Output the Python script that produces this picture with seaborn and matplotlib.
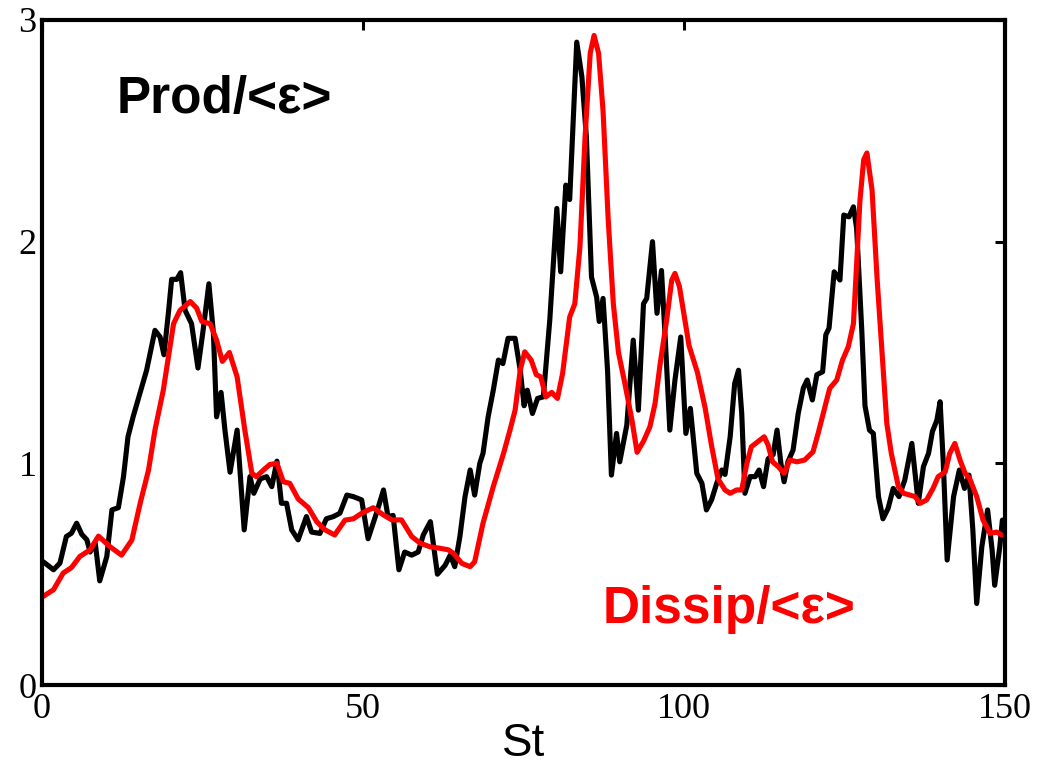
import matplotlib
matplotlib.use('Agg')
import matplotlib.pyplot as plt
import seaborn as sns
import pandas as pd

# Production (black)
prod_st = [0.2, 1.8, 2.8, 3.8, 4.6, 5.4, 6.2, 7.0, 7.5, 8.3, 9.0, 10.1, 10.9, 11.9, 12.7, 13.4, 14.2,
           15.3, 16.3, 17.1, 17.6, 18.4, 19.0, 19.7, 20.2, 21.0, 21.6, 22.3, 23.3, 24.3, 25.1, 26.0,
           26.7, 27.2, 27.9, 28.5, 29.3, 30.4, 31.5, 32.4, 33.0, 34.0, 35.0, 35.8, 36.6, 37.3, 38.1,
           38.9, 39.9, 41.2, 42.0, 43.3, 44.3, 45.4, 46.4, 47.5, 48.5, 49.8, 50.8, 52.1, 53.2, 53.9,
           54.7, 55.6, 56.5, 57.6, 58.6, 59.4, 60.5, 61.6, 62.8, 63.6, 64.3, 65.1, 65.9, 66.7, 67.4,
           68.2, 68.7, 69.5, 70.3, 71.1, 71.8, 72.6, 73.7, 74.5, 75.1, 75.6, 76.4, 77.2, 78.1, 79.1,
           80.2, 80.8, 81.6, 82.2, 83.3, 84.1, 84.8, 85.6, 86.4, 86.8, 87.4, 88.1, 88.7, 89.5, 90.0,
           91.1, 92.1, 92.9, 93.7, 94.2, 95.1, 95.8, 96.5, 97.1, 97.8, 98.6, 99.5, 100.3, 101.0,
           102.0, 102.8, 103.5, 104.3, 105.1, 105.9, 106.4, 107.2, 107.9, 108.5, 109.0, 109.5,
           110.3, 111.1, 111.7, 112.4, 113.1, 113.9, 114.5, 115.1, 115.6, 116.2, 117.0, 117.8,
           118.6, 119.2, 120.0, 120.7, 121.6, 122.1, 122.6, 123.4, 124.3, 124.9, 125.7, 126.4,
           126.9, 127.7, 128.2, 128.9, 129.5, 130.3, 131.0, 131.8, 132.6, 133.5, 134.4, 135.5,
           136.5, 137.3, 138.1, 138.7, 139.4, 139.9, 140.4, 141.0, 142.0, 142.9, 143.7, 144.4,
           145.0, 145.6, 146.4, 147.3, 148.0, 148.4, 149.2, 149.6]
prod_val = [0.556, 0.52, 0.55, 0.67, 0.685, 0.73, 0.68, 0.655, 0.60, 0.64, 0.47, 0.58, 0.79, 0.80,
            0.94, 1.12, 1.21, 1.32, 1.42, 1.53, 1.60, 1.57, 1.49, 1.68, 1.83, 1.83, 1.86, 1.69,
            1.63, 1.43, 1.60, 1.81, 1.59, 1.21, 1.32, 1.15, 0.96, 1.15, 0.70, 0.94, 0.865, 0.93,
            0.94, 0.895, 1.01, 0.82, 0.82, 0.70, 0.655, 0.76, 0.69, 0.684, 0.75, 0.76, 0.775,
            0.857, 0.85, 0.835, 0.66, 0.775, 0.88, 0.76, 0.765, 0.52, 0.60, 0.586, 0.60, 0.677,
            0.737, 0.50, 0.54, 0.586, 0.534, 0.67, 0.85, 0.97, 0.857, 1.00, 1.045, 1.21, 1.33,
            1.466, 1.45, 1.564, 1.564, 1.42, 1.26, 1.33, 1.225, 1.293, 1.30, 1.646, 2.15, 1.864,
            2.255, 2.19, 2.90, 2.744, 2.473, 1.84, 1.75, 1.64, 1.744, 1.42, 0.947, 1.135, 1.007,
            1.173, 1.556, 1.24, 1.72, 1.744, 2.00, 1.677, 1.87, 1.556, 1.15, 1.376, 1.57, 1.135,
            1.248, 0.955, 0.91, 0.79, 0.835, 0.91, 0.97, 0.95, 1.12, 1.36, 1.42, 1.225, 0.865,
            0.94, 0.94, 0.97, 0.895, 1.02, 1.04, 1.15, 1.00, 0.917, 1.007, 1.06, 1.225, 1.34,
            1.376, 1.286, 1.40, 1.413, 1.58, 1.61, 1.864, 1.827, 2.12, 2.112, 2.157, 2.06, 1.60,
            1.26, 1.15, 1.135, 0.85, 0.75, 0.797, 0.887, 0.85, 0.925, 1.09, 0.82, 0.985, 1.045,
            1.143, 1.195, 1.278, 1.00, 0.564, 0.85, 0.97, 0.887, 0.947, 0.70, 0.368, 0.624, 0.79,
            0.61, 0.45, 0.624, 0.744]

# Dissipation (red)
dis_st = [0.2, 1.8, 3.3, 4.6, 5.9, 7.5, 8.8, 10.6, 12.4, 14.0, 15.3, 16.6, 17.6, 18.9, 19.7, 20.5,
          21.5, 23.1, 24.1, 24.9, 26.2, 27.2, 28.1, 29.2, 30.4, 31.6, 32.7, 33.4, 34.5, 35.5, 36.6,
          37.6, 38.6, 39.9, 41.5, 42.8, 44.1, 45.6, 47.2, 48.5, 49.8, 51.6, 53.2, 54.5, 56.0, 57.6,
          58.9, 60.4, 62.0, 63.3, 64.1, 65.4, 66.7, 67.4, 68.7, 70.3, 71.9, 72.9, 73.7, 74.5, 75.2,
          76.2, 77.0, 77.7, 78.5, 79.4, 80.3, 81.1, 82.2, 83.0, 83.8, 84.6, 85.4, 86.0, 86.7, 87.4,
          88.2, 89.0, 89.8, 90.8, 91.9, 92.7, 93.7, 94.7, 95.5, 96.3, 97.3, 98.1, 98.6, 99.3,
          100.8, 102.1, 103.3, 104.3, 105.3, 106.4, 107.2, 108.2, 109.0, 109.8, 110.5, 111.6,
          112.5, 113.1, 113.8, 114.7, 115.6, 116.5, 117.6, 118.8, 120.1, 120.9, 121.7, 122.7,
          123.8, 124.7, 125.6, 126.4, 126.9, 127.4, 128.0, 128.5, 129.3, 130.1, 130.8, 131.6,
          132.3, 133.4, 134.2, 135.2, 136.0, 136.8, 137.8, 138.8, 139.6, 140.7, 141.4, 142.2,
          143.0, 143.8, 144.5, 145.6, 146.6, 147.7, 148.7, 149.5]
dis_val = [0.40, 0.43, 0.505, 0.53, 0.58, 0.61, 0.672, 0.624, 0.586, 0.654, 0.82, 0.97, 1.15, 1.33,
           1.48, 1.63, 1.69, 1.73, 1.70, 1.64, 1.63, 1.556, 1.46, 1.50, 1.39, 1.15, 0.955, 0.94,
           0.97, 0.995, 1.00, 0.917, 0.91, 0.84, 0.80, 0.737, 0.70, 0.677, 0.744, 0.75, 0.775,
           0.80, 0.767, 0.745, 0.745, 0.67, 0.64, 0.624, 0.617, 0.61, 0.594, 0.549, 0.534, 0.556,
           0.73, 0.895, 1.045, 1.15, 1.24, 1.42, 1.503, 1.466, 1.40, 1.39, 1.30, 1.32, 1.293,
           1.406, 1.66, 1.72, 1.977, 2.473, 2.85, 2.93, 2.85, 2.59, 2.10, 1.72, 1.50, 1.36, 1.195,
           1.05, 1.10, 1.165, 1.27, 1.45, 1.646, 1.827, 1.857, 1.797, 1.53, 1.41, 1.25, 1.08,
           0.93, 0.88, 0.865, 0.88, 0.88, 1.00, 1.075, 1.10, 1.12, 1.083, 1.007, 0.985, 0.955,
           1.015, 1.007, 1.015, 1.052, 1.135, 1.225, 1.338, 1.376, 1.466, 1.526, 1.63, 1.90,
           2.18, 2.37, 2.40, 2.233, 1.827, 1.526, 1.18, 1.045, 0.895, 0.865, 0.857, 0.85, 0.82,
           0.835, 0.887, 0.94, 0.962, 1.045, 1.09, 1.015, 0.955, 0.932, 0.85, 0.744, 0.684, 0.69,
           0.677]

x_ticks = [0, 50, 100, 150]
y_ticks = [0, 1, 2, 3]

prod = pd.DataFrame({'St': prod_st, 'val': prod_val})
dis = pd.DataFrame({'St': dis_st, 'val': dis_val})

sns.set_style('white')
plt.rcParams['font.family'] = ['Liberation Serif', 'DejaVu Serif']

fig = plt.figure(figsize=(10.49, 7.68), dpi=100)
ax = fig.add_axes([0.040, 0.108, 0.918, 0.866])

sns.lineplot(data=prod, x='St', y='val', color='black', linewidth=3.7, ax=ax)
sns.lineplot(data=dis, x='St', y='val', color='#ff0000', linewidth=3.7, ax=ax)

ax.set_xlim(0, 150)
ax.set_ylim(0, 3)
ax.set_xticks(x_ticks)
ax.set_yticks(y_ticks)
ax.tick_params(direction='in', length=7, width=2.2, top=True, right=True,
               labelsize=26, colors='black')
ax.tick_params(axis='x', pad=6)
ax.tick_params(axis='y', pad=4)
for s in ax.spines.values():
    s.set_visible(True)
    s.set_linewidth(3)
    s.set_color('black')

ax.set_xlabel('St', fontsize=33, color='black', family=['Liberation Sans', 'DejaVu Sans'],
              labelpad=-3)
ax.set_ylabel('')

ax.text(11.6, 2.58, 'Prod/<ε>', fontsize=37, fontweight='bold', color='black',
        family=['Liberation Sans', 'DejaVu Sans'], ha='left', va='baseline')
ax.text(87.3, 0.28, 'Dissip/<ε>', fontsize=37, fontweight='bold', color='#ff0000',
        family=['Liberation Sans', 'DejaVu Sans'], ha='left', va='baseline')

fig.savefig('out.png', dpi=100)
